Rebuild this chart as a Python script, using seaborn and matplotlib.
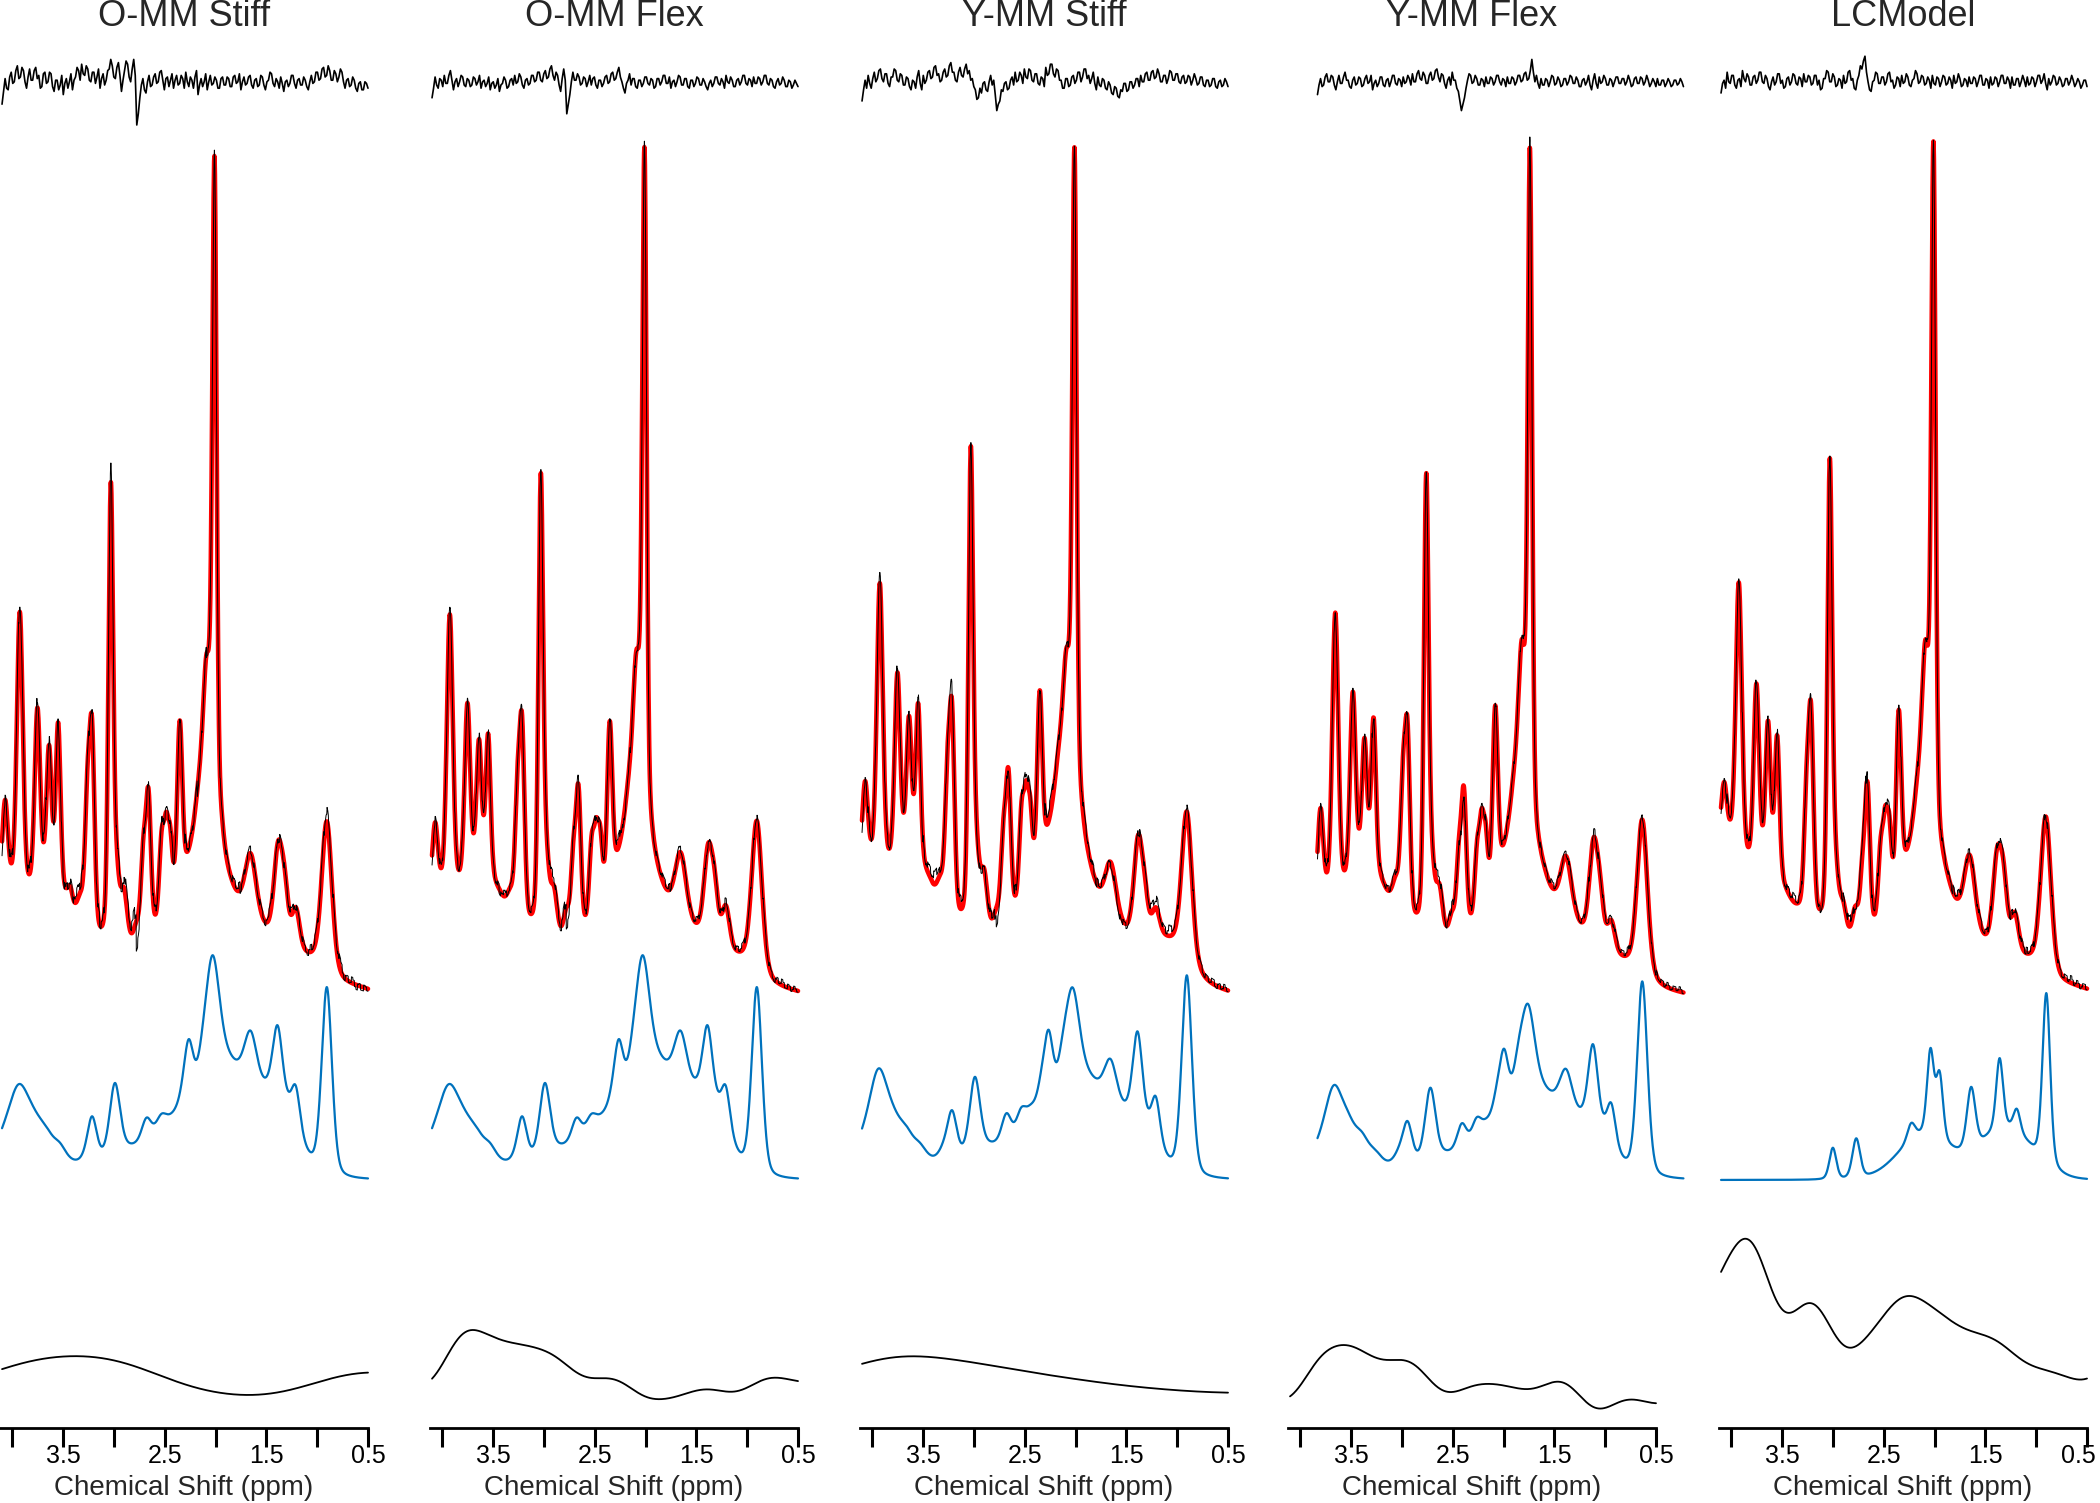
import numpy as np
import matplotlib
matplotlib.use("Agg")
import matplotlib.pyplot as plt
import matplotlib.transforms as mtransforms
import seaborn as sns

sns.set_theme(style="white")
plt.rcParams["font.family"] = ["Liberation Sans", "DejaVu Sans"]

titles = ["O-MM Stiff", "O-MM Flex", "Y-MM Stiff", "Y-MM Flex", "LCModel"]
# Y-MM Flex fit came out frequency-shifted
ppm_shift = [0.0, 0.0, 0.0, -0.27, 0.0]

# lineshape components of the fitted spectrum (ppm, fwhm in ppm)
fit_centers = [4.07, 3.925, 3.752, 3.638, 3.548, 3.43, 3.33, 3.26, 3.215, 3.03, 2.975, 2.90,
               2.78, 2.71, 2.66, 2.53, 2.485, 2.445, 2.352, 2.16, 2.09, 2.045, 2.01, 1.95,
               1.86, 1.655, 1.385, 1.32, 1.21, 0.905, 4.1, 3.6, 3.1, 2.6, 2.1, 1.6, 1.1, 0.6]
fit_fwhm = [0.065, 0.07, 0.065, 0.06, 0.055, 0.06, 0.08, 0.06, 0.06, 0.055, 0.07, 0.08,
            0.07, 0.06, 0.06, 0.06, 0.055, 0.055, 0.06, 0.10, 0.08, 0.06, 0.05, 0.07,
            0.10, 0.13, 0.10, 0.09, 0.09, 0.12, 0.5, 0.5, 0.5, 0.5, 0.5, 0.5, 0.5, 0.5]

# fit heights (ppm, height)
fit_omm_stiff = [(4.11, 115), (4.07, 207), (4.02, 153), (3.93, 383), (3.83, 148), (3.75, 292),
                 (3.70, 158), (3.64, 255), (3.58, 195), (3.55, 278), (3.50, 133), (3.48, 107),
                 (3.43, 118), (3.38, 82), (3.33, 112), (3.30, 130), (3.26, 233), (3.22, 287),
                 (3.12, 80), (3.03, 518), (2.975, 163), (2.91, 117), (2.845, 60), (2.78, 80),
                 (2.71, 163), (2.66, 212), (2.60, 87), (2.53, 170), (2.49, 187), (2.45, 177),
                 (2.41, 137), (2.35, 278), (2.29, 170), (2.23, 155), (2.16, 233), (2.11, 317),
                 (2.07, 350), (2.01, 844), (1.94, 190), (1.86, 123), (1.79, 102), (1.66, 147),
                 (1.52, 87), (1.38, 160), (1.33, 140), (1.25, 87), (1.21, 92), (1.07, 45),
                 (0.91, 178), (0.76, 37), (0.70, 13), (0.52, 10)]
fit_omm_flex = [(4.10, 98), (4.05, 197), (4.01, 134), (3.92, 380), (3.83, 161), (3.75, 295),
                (3.69, 170), (3.63, 255), (3.57, 205), (3.545, 277), (3.50, 135), (3.47, 112),
                (3.43, 115), (3.38, 85), (3.33, 115), (3.30, 140), (3.26, 230), (3.215, 286),
                (3.12, 94), (3.03, 527), (2.975, 174), (2.91, 120), (2.845, 63), (2.78, 94),
                (2.71, 160), (2.655, 210), (2.60, 85), (2.53, 165), (2.485, 183), (2.45, 175),
                (2.41, 143), (2.35, 277), (2.29, 170), (2.23, 161), (2.16, 235), (2.11, 322),
                (2.07, 352), (2.01, 853), (1.94, 183), (1.86, 120), (1.79, 103), (1.65, 147),
                (1.52, 89), (1.385, 156), (1.33, 138), (1.25, 88), (1.21, 94), (1.07, 45),
                (0.905, 179), (0.76, 35), (0.69, 13), (0.50, 5)]
fit_ymm_stiff = [(4.10, 147), (4.06, 232), (4.02, 170), (3.92, 411), (3.84, 174), (3.76, 317),
                 (3.69, 192), (3.63, 277), (3.58, 219), (3.55, 299), (3.50, 150), (3.47, 125),
                 (3.43, 128), (3.38, 103), (3.33, 128), (3.30, 150), (3.26, 250), (3.22, 304),
                 (3.12, 98), (3.03, 554), (2.975, 185), (2.91, 135), (2.83, 71), (2.78, 95),
                 (2.71, 180), (2.66, 232), (2.60, 103), (2.53, 200), (2.49, 219), (2.45, 205),
                 (2.42, 170), (2.35, 308), (2.29, 195), (2.25, 183), (2.16, 260), (2.10, 344),
                 (2.06, 370), (2.01, 853), (1.92, 183), (1.86, 125), (1.78, 107), (1.66, 138),
                 (1.53, 94), (1.39, 161), (1.33, 140), (1.27, 80), (1.20, 94), (1.07, 63),
                 (0.91, 188), (0.76, 40), (0.70, 15), (0.49, 6)]
fit_ymm_flex = [(3.84, 98), (3.80, 201), (3.75, 143), (3.66, 381), (3.57, 161), (3.49, 299),
                (3.43, 170), (3.37, 259), (3.32, 210), (3.28, 281), (3.23, 135), (3.20, 116),
                (3.16, 115), (3.12, 94), (3.06, 125), (3.03, 150), (2.99, 240), (2.95, 286),
                (2.85, 96), (2.76, 527), (2.705, 170), (2.64, 120), (2.57, 67), (2.51, 90),
                (2.44, 160), (2.39, 214), (2.33, 85), (2.26, 160), (2.21, 192), (2.18, 180),
                (2.15, 147), (2.09, 281), (2.02, 175), (1.97, 170), (1.89, 240), (1.84, 335),
                (1.80, 355), (1.74, 853), (1.68, 188), (1.59, 125), (1.53, 103), (1.40, 143),
                (1.25, 92), (1.13, 152), (1.06, 135), (0.99, 78), (0.95, 80), (0.81, 40),
                (0.65, 174), (0.49, 35), (0.43, 12), (0.25, 2)]
fit_lcmodel = [(4.09, 160), (4.06, 250), (4.01, 185), (3.92, 412), (3.82, 172), (3.75, 315),
               (3.69, 173), (3.63, 273), (3.57, 203), (3.545, 275), (3.45, 100), (3.41, 112),
               (3.36, 90), (3.30, 130), (3.26, 230), (3.21, 287), (3.11, 97), (3.03, 542),
               (2.975, 170), (2.91, 115), (2.86, 57), (2.76, 97), (2.70, 160), (2.65, 203),
               (2.58, 88), (2.52, 170), (2.48, 195), (2.44, 180), (2.40, 148), (2.35, 288),
               (2.29, 180), (2.22, 168), (2.16, 240), (2.11, 333), (2.06, 362), (2.01, 859),
               (1.91, 140), (1.84, 110), (1.78, 83), (1.64, 142), (1.50, 85), (1.37, 155),
               (1.31, 130), (1.24, 75), (1.20, 92), (1.06, 42), (0.90, 182), (0.75, 40),
               (0.67, 10), (0.50, 7)]

# macromolecule basis components (Osprey O-MM / Y-MM)
mm_centers = [3.94, 3.80, 3.66, 3.53, 3.30, 3.215, 2.99, 2.68, 2.535, 2.44, 2.34, 2.265,
              2.13, 2.03, 1.655, 1.39, 1.21, 0.905, 3.9, 3.4, 2.9, 2.4, 1.9, 1.4]
mm_fwhm = [0.18, 0.14, 0.14, 0.14, 0.12, 0.11, 0.12, 0.11, 0.11, 0.12, 0.11, 0.11,
           0.13, 0.16, 0.15, 0.11, 0.10, 0.12, 0.5, 0.5, 0.5, 0.5, 0.5, 0.45]
mm_o = [(4.11, 52), (3.93, 96), (3.79, 71), (3.66, 53), (3.53, 38), (3.41, 17), (3.29, 33),
        (3.20, 60), (3.11, 46), (2.98, 95), (2.83, 31), (2.68, 64), (2.61, 52), (2.53, 68),
        (2.47, 65), (2.42, 67), (2.34, 97), (2.30, 117), (2.25, 139), (2.19, 132), (2.12, 153),
        (2.09, 190), (2.025, 217), (1.96, 197), (1.86, 130), (1.78, 109), (1.66, 152),
        (1.51, 96), (1.39, 155), (1.27, 87), (1.22, 95), (1.07, 47), (1.01, 57), (0.98, 90),
        (0.905, 172), (0.81, 97), (0.76, 30), (0.71, 10), (0.60, 4), (0.49, 2)]
mm_y = [(4.10, 52), (3.92, 111), (3.80, 77), (3.67, 55), (3.54, 40), (3.43, 19), (3.31, 37),
        (3.22, 68), (3.11, 52), (2.99, 102), (2.83, 31), (2.68, 68), (2.61, 55), (2.54, 73),
        (2.47, 72), (2.44, 77), (2.34, 109), (2.26, 147), (2.20, 126), (2.12, 150), (2.09, 170),
        (2.05, 184), (1.96, 165), (1.86, 112), (1.77, 91), (1.66, 124), (1.53, 77), (1.39, 149),
        (1.27, 64), (1.20, 82), (1.06, 52), (1.00, 62), (0.98, 90), (0.91, 183), (0.81, 100),
        (0.76, 30), (0.71, 8), (0.60, 4), (0.49, 2)]
mm_y_flex = [(3.84, 46), (3.75, 60), (3.65, 100), (3.53, 68), (3.40, 49), (3.28, 33), (3.14, 15),
             (3.04, 32), (2.95, 58), (2.83, 43), (2.72, 91), (2.56, 24), (2.41, 58), (2.34, 46),
             (2.26, 64), (2.18, 61), (2.07, 95), (1.99, 129), (1.92, 113), (1.85, 140), (1.78, 168),
             (1.69, 150), (1.60, 100), (1.51, 79), (1.40, 113), (1.25, 70), (1.13, 135), (1.00, 58),
             (0.93, 76), (0.80, 46), (0.73, 80), (0.65, 171), (0.55, 90), (0.49, 30), (0.42, 6),
             (0.30, 3), (0.23, 2)]

# LCModel simulated macromolecules
lcm_mm_centers = [3.00, 2.77, 2.39, 2.23, 2.04, 1.95, 1.64, 1.36, 1.19, 0.90, 2.1, 1.3]
lcm_mm_fwhm = [0.08, 0.09, 0.09, 0.09, 0.08, 0.08, 0.10, 0.08, 0.08, 0.09, 0.6, 0.6]
mm_lcmodel = [(4.10, 2), (3.80, 2), (3.50, 2), (3.20, 4), (3.09, 12), (3.00, 31), (2.89, 18),
              (2.77, 40), (2.68, 18), (2.59, 11), (2.48, 13), (2.39, 15), (2.30, 30), (2.22, 59),
              (2.04, 132), (1.96, 109), (1.84, 51), (1.64, 93), (1.49, 42), (1.36, 122),
              (1.26, 58), (1.18, 70), (1.10, 31), (0.90, 182), (0.80, 90), (0.68, 12), (0.48, 4)]

# spline baselines (ppm, height)
spl_stiff_centers = [4.6, 3.8, 3.0, 2.2, 1.4, 0.6, -0.2]
spl_flex_centers = [4.4, 4.1, 3.8, 3.5, 3.2, 2.9, 2.6, 2.3, 2.0, 1.7, 1.4, 1.1, 0.8, 0.5, 0.2]
base_omm_stiff = [(4.11, 50), (3.79, 60), (3.45, 65), (3.14, 62), (2.81, 54), (2.42, 41),
                  (2.09, 30), (1.76, 23), (1.43, 27), (1.10, 36), (0.78, 43), (0.50, 48)]
base_omm_flex = [(4.10, 41), (3.90, 72), (3.69, 94), (3.48, 81), (3.19, 76), (2.93, 67),
                 (2.61, 43), (2.41, 43), (2.22, 36), (2.00, 25), (1.87, 18), (1.63, 27),
                 (1.45, 29), (1.25, 30), (1.02, 30), (0.78, 43), (0.53, 39)]
base_ymm_stiff = [(4.10, 56), (3.85, 62), (3.61, 65), (3.30, 62), (3.02, 57), (2.50, 50),
                  (2.04, 41), (1.70, 37), (1.38, 33), (1.00, 30), (0.70, 28), (0.49, 27)]
base_ymm_flex = [(4.08, 25), (3.85, 55), (3.64, 79), (3.40, 67), (3.15, 62), (2.93, 58),
                 (2.73, 42), (2.53, 27), (2.33, 31), (2.10, 41), (1.99, 35), (1.84, 24),
                 (1.63, 39), (1.32, 30), (1.02, 11), (0.76, 21), (0.51, 16)]
base_lcmodel = [(4.08, 151), (3.95, 178), (3.84, 184), (3.65, 143), (3.55, 120), (3.42, 104),
                (3.17, 119), (3.00, 88), (2.80, 70), (2.60, 93), (2.22, 125), (2.01, 113),
                (1.82, 97), (1.58, 88), (1.36, 77), (1.03, 53), (0.83, 48), (0.62, 40), (0.49, 41)]

# fit residuals (data - fit), 240 samples across each spectrum
res_omm_stiff = [-12, -4, 4, -2, -3, 5, 8, 1, 2, 9, 12, 4, 5, 11, 9, 2, -2, 5, 10, 3,
                 3, 9, 11, 4, 6, -2, -1, 7, 8, 1, 2, 8, 7, -1, -4, 3, 3, -3, 0, 6,
                 -6, 1, 4, -2, 2, 7, -3, 3, 5, 11, 9, 3, 13, 7, 6, 12, 10, 3, 2, 8,
                 8, 1, 5, 10, -2, 4, 7, 0, 3, 9, 10, 16, 12, 5, 4, 11, 14, 6, -4, 3,
                 9, 15, 13, 5, 2, 10, 16, 6, -25, -18, -8, 0, 4, -3, -5, 2, 6, -1, 0, 5,
                 7, 1, 2, 8, 9, 3, -3, 4, 5, -1, 3, 7, -2, 3, 6, 0, 1, 6, 4, -2,
                 8, 2, -1, 5, 3, -2, 5, 9, -6, 0, 4, -1, 2, 7, -3, 2, 6, 0, 1, 5,
                 3, -2, -2, 4, 5, 0, 0, 5, 4, -1, -1, 5, 6, 1, 2, 7, -3, 2, 5, 0,
                 1, 5, 6, 0, -2, 3, 4, -1, 0, 6, 5, 0, -3, 2, 3, 8, 7, 1, -1, 4,
                 2, -2, 5, 1, -4, 2, 3, -1, 1, 6, 6, 1, -2, 3, 4, 0, 0, 5, 3, -1,
                 -3, 2, 6, 1, 2, 8, 8, 3, 4, 10, 11, 5, 6, 12, 9, 3, 3, 9, 7, 2,
                 5, 10, 8, 2, -2, 3, 4, -1, 0, 5, 3, -2, -4, 1, 2, -3, -3, 2, 1, -2]
res_omm_flex = [-8, -2, 5, 0, -2, 4, 3, -1, 6, 1, 1, 6, 9, 3, -3, 2, 4, -1, 2, 6,
                5, 0, -1, 4, 3, -1, 0, 5, 4, 0, 2, 6, -2, 2, 3, -1, 1, 5, -3, 1,
                2, -2, 0, 4, -4, 0, 1, 5, 3, -2, -1, 3, 4, 0, 6, 1, 2, 7, 5, 0,
                -2, 3, 4, 0, 1, 6, 6, 2, 3, 8, 8, 3, 2, 7, 9, 4, 5, 10, 12, 6,
                3, 8, 6, 0, -4, 4, 10, 3, -18, -12, -6, 2, 8, 3, 3, 7, 5, 0, 1, 5,
                4, -1, 2, 6, 0, 4, 5, 0, -2, 3, 3, -1, 1, 5, 6, 1, 2, 7, 8, 3,
                4, 8, 11, 5, 2, -2, -5, 1, 3, 7, 0, 4, 4, -1, -2, 3, 3, -1, 1, 5,
                5, 1, 0, 4, 3, -2, -1, 4, 4, 0, 2, 6, 6, 1, 1, 5, -2, 2, 3, -1,
                2, 6, 5, 0, 0, 4, 4, -1, -2, 3, 3, -1, 1, 5, 4, 0, 0, 4, 2, -1,
                -3, 1, 3, -1, 1, 5, 5, 1, 0, 4, 2, -2, 6, 2, 1, 5, 3, -1, -1, 3,
                4, 0, 2, 6, 6, 1, 0, 4, 3, -1, 5, 1, 1, 5, 4, 0, 2, 6, 6, 1,
                0, 4, 3, -1, -2, 2, 4, 0, 1, 5, 3, -1, -1, 3, 2, -2, 0, 3, 1, -1]
res_ymm_stiff = [-10, -3, 3, -2, 6, 1, -2, 4, 8, 2, 4, 9, 10, 4, 2, 7, 7, 1, -1, 5,
                 5, 10, 9, 3, 2, 7, 6, 0, 0, 5, 4, -1, -3, 3, 2, -2, 5, 9, 1, -3,
                 6, 1, 3, 8, 9, 4, 5, 11, 12, 6, 7, 2, 3, 8, 10, 5, 6, 12, 14, 8,
                 8, 3, 2, 8, 11, 6, 5, 10, 13, 7, 9, 3, 4, -1, -3, -9, -8, -2, -5, 1,
                 2, -3, -4, 2, 6, 0, 3, -6, -16, -12, -10, -3, -4, 1, 2, -3, -2, 3, 5, 0,
                 8, 2, 3, 8, 6, 1, 10, 5, 4, 10, 9, 3, 2, 7, 7, 1, 0, 5, 4, -1,
                 11, 6, 7, 13, 13, 7, 5, 10, 9, 3, 3, -2, -2, 4, 4, -1, 0, 5, 6, 1,
                 3, 8, 8, 2, 5, 10, 10, 4, 6, 1, 4, 8, 1, -3, 5, 0, -1, 4, 3, -2,
                 -3, 2, 0, -5, -6, -1, -2, -7, -8, -3, -4, 1, 1, -4, -3, 2, 2, -2, 0, 4,
                 4, -1, 6, 2, 2, 7, 8, 3, 3, 8, 9, 4, 5, 10, 7, 2, 2, 6, 6, 1,
                 4, 9, 8, 3, 3, 7, 7, 2, 1, 5, 6, 1, 2, 6, 5, 0, 3, 7, 4, 0,
                 1, 5, 5, 0, -1, 3, 3, -1, 0, 4, 4, -1, -2, 2, 3, -1, 0, 4, 2, -1]
res_ymm_flex = [-6, 0, 4, -1, 0, 5, 7, 2, 2, 6, 5, 0, -3, 2, 6, 1, 1, 5, 8, 3,
                3, -1, -2, 3, 5, 0, 1, 5, 4, -1, 0, 4, 6, 1, 2, 6, -3, 1, 3, -1,
                1, 5, 5, 0, -1, 3, 4, -1, 2, 6, 6, 1, 0, 4, 3, -1, 5, 1, 2, 6,
                4, 0, 7, 2, 2, 7, 9, 4, 3, 8, 6, 1, 1, 6, 8, 3, 4, 9, 10, 5,
                2, 7, 6, 1, -2, 3, 5, 0, 8, 3, 3, -2, -4, -10, -16, -12, -8, -2, 3, 7,
                6, 1, 2, 6, 4, 0, 0, 4, 3, -1, 5, 1, 1, 5, 4, 0, 2, 6, 6, 2,
                0, 4, 3, -1, 5, 1, 1, 5, 4, 0, 2, 6, 6, 2, 3, 7, 8, 3, 4, 9,
                16, 8, 2, 6, 1, -2, 4, 0, 0, 4, 3, -1, 2, 6, 5, 0, 1, 5, 3, -1,
                0, 4, 4, 0, 2, 6, 5, 1, 1, 5, 3, -1, -1, 3, 4, 0, 2, 6, 0, -3,
                3, 7, 1, -2, 5, 1, 2, 6, 4, 0, 0, 4, 3, -1, 2, 5, 5, 1, 1, 4,
                4, 0, 2, 6, 3, -1, 0, 4, 5, 1, 1, 5, 4, 0, 2, 6, 3, -1, 1, 4,
                2, -1, 4, 0, 0, 3, 3, -1, 1, 4, 2, -1, 0, 3, 3, 0, 1, 4, 2, -1]
res_lcmodel = [-5, 1, 3, -2, 8, 2, 1, 6, 6, 0, -2, 3, 4, -1, 9, 4, 2, 7, 5, 0,
               0, 5, 6, 1, 3, 8, 8, 2, 1, 6, 4, -1, -3, 2, 5, 0, 2, 7, 7, 1,
               3, -2, -1, 4, 5, 0, 2, 7, 6, 1, 0, 5, 4, -1, 7, 2, 2, 6, 5, 0,
               1, 6, 6, 0, 3, -3, -2, 4, 4, 9, 8, 2, 2, 7, 5, -1, 0, 4, 3, -2,
               6, 1, 2, 8, 9, 3, 4, -2, -3, 3, 6, 12, 10, 15, 18, 8, 2, -3, -4, 2,
               3, 8, 7, 1, 1, 5, 5, 0, 2, 7, 8, 2, 3, -2, 0, 5, 4, -1, 6, 1,
               2, 7, 5, 0, -1, 3, 4, 9, 7, 1, 2, 6, 5, 0, 1, 5, 3, -2, 6, 1,
               0, 5, 4, -1, 2, 6, 5, 0, 1, 5, 3, -2, 6, 1, 2, 7, 4, -1, 0, 4,
               3, -1, 5, 1, 1, 5, 4, -1, 2, 6, 6, 0, 0, 4, 3, -2, 5, 0, 1, 5,
               4, -1, 2, 6, 6, 1, 1, 5, 3, -2, 5, 0, 0, 4, 4, -1, 2, 6, 3, -1,
               5, 0, 1, 5, 4, -1, 2, 6, 6, 1, 3, 7, 1, -3, 4, 0, 2, 6, 5, 0,
               1, 5, 3, -1, 0, 4, 4, 0, 2, 6, 3, -1, 1, 4, 2, -2, 0, 3, 3, -1]

fits = [fit_omm_stiff, fit_omm_flex, fit_ymm_stiff, fit_ymm_flex, fit_lcmodel]
mms = [mm_o, mm_o, mm_y, mm_y_flex, mm_lcmodel]
bases = [base_omm_stiff, base_omm_flex, base_ymm_stiff, base_ymm_flex, base_lcmodel]
base_centers = [spl_stiff_centers, spl_flex_centers, spl_stiff_centers, spl_flex_centers, spl_flex_centers]
residuals = [res_omm_stiff, res_omm_flex, res_ymm_stiff, res_ymm_flex, res_lcmodel]


def shape(ppm, centers, fwhm):
    # pseudo-Voigt for the narrow lines, plain Gaussian for broad humps
    ppm = np.asarray(ppm, float)[:, None]
    c = np.asarray(centers, float)[None, :]
    w = np.asarray(fwhm, float)[None, :]
    g = np.exp(-4 * np.log(2) * ((ppm - c) / w) ** 2)
    lor = 1.0 / (1.0 + (2 * (ppm - c) / w) ** 2)
    eta = np.where(w < 0.3, 0.3, 0.0)
    return (1 - eta) * g + eta * lor


def solve(pts, centers, fwhm, nonneg=True, const=False, ridge=1e-3):
    x = np.array([p[0] for p in pts])
    y = np.array([p[1] for p in pts], float)
    A = shape(x, centers, fwhm)
    if const:
        A = np.hstack([A, np.ones((len(x), 1))])
    n = A.shape[1]
    active = np.ones(n, bool)
    for _ in range(n):
        Aa = A[:, active]
        k = Aa.shape[1]
        sol = np.linalg.lstsq(np.vstack([Aa, np.sqrt(ridge) * np.eye(k)]),
                              np.concatenate([y, np.zeros(k)]), rcond=None)[0]
        if not nonneg or sol.min() >= 0:
            break
        idx = np.where(active)[0]
        active[idx[np.argmin(sol)]] = False
    amps = np.zeros(n)
    amps[active] = sol
    return amps


def curve(ppm, amps, centers, fwhm, const=False):
    G = shape(ppm, centers, fwhm)
    if const:
        return G @ amps[:-1] + amps[-1]
    return G @ amps


# vertical placement of the stacked traces (pixels above the axis line)
off_res, off_fit, off_mm, off_base = 1343, 428, 248, 8
res_gain = 1.6   # residual panel is drawn magnified
fig = plt.figure(figsize=(21, 15.03), dpi=100)
lefts = [0, 430, 860, 1288, 1719]

for i, title in enumerate(titles):
    ax = fig.add_axes([lefts[i] / 2100, 75 / 1503, 368 / 2100, 1383 / 1503])
    sh = ppm_shift[i]
    ppm = np.linspace(4.1, 0.5, 1440) + sh
    ppm_res = np.linspace(4.1, 0.5, 240) + sh
    ppm_base = np.linspace(4.1, 0.5, 600)

    fc = np.array(fit_centers) + sh
    fit = curve(ppm, solve(fits[i], fc, fit_fwhm), fc, fit_fwhm)
    res = np.array(residuals[i], float)
    data = fit + np.repeat(res, 6) * 1.2

    if i == 4:
        mm = curve(ppm, solve(mms[i], lcm_mm_centers, lcm_mm_fwhm), lcm_mm_centers, lcm_mm_fwhm)
    else:
        mc = np.array(mm_centers) + sh
        mm = curve(ppm, solve(mms[i], mc, mm_fwhm), mc, mm_fwhm)

    bc = base_centers[i]
    bw = [1.2] * len(bc) if len(bc) < 10 else [0.45] * len(bc)
    base = curve(ppm_base, solve(bases[i], bc, bw, nonneg=False, const=True, ridge=0.05),
                 bc, bw, const=True)

    kw = dict(ax=ax, sort=False, estimator=None, clip_on=False, legend=False)
    sns.lineplot(x=ppm_res, y=res * res_gain + off_res, color="black", lw=1.2, **kw)
    sns.lineplot(x=ppm, y=fit + off_fit, color="#ff0000", lw=3.3, zorder=2, **kw)
    sns.lineplot(x=ppm, y=data + off_fit, color="black", lw=0.7, zorder=3, **kw)
    sns.lineplot(x=ppm, y=mm + off_mm, color="#0072BD", lw=1.6, **kw)
    sns.lineplot(x=ppm_base, y=base + off_base, color="black", lw=1.3, **kw)

    ax.set_xlim(4.12, 0.5)
    ax.set_ylim(0, 1383)
    ax.set_yticks([])
    ax.set_ylabel("")
    ax.set_xticks([4.0, 3.5, 3.0, 2.5, 2.0, 1.5, 1.0, 0.5])
    ax.set_xticklabels(["", "3.5", "", "2.5", "", "1.5", "", "0.5"])
    ax.tick_params(axis="x", direction="out", length=13.5, width=2.2, pad=-2,
                   labelsize=18, colors="black", bottom=True)
    if i == len(titles) - 1:
        # keep the last label inside the canvas
        lab = ax.get_xticklabels()[-1]
        lab.set_transform(lab.get_transform() +
                          mtransforms.ScaledTranslation(-6 / 72, 0, fig.dpi_scale_trans))
    for side in ["top", "left", "right"]:
        ax.spines[side].set_visible(False)
    ax.spines["bottom"].set_linewidth(2.0)
    ax.spines["bottom"].set_color("black")
    ax.set_xlabel("")
    ax.patch.set_alpha(0)
    cx = (lefts[i] + 184) / 2100
    fig.text(cx, 1 - 16 / 1503, title, ha="center", va="center", fontsize=26)
    fig.text(cx, 1 - 1495 / 1503, "Chemical Shift (ppm)", ha="center", va="baseline", fontsize=20)

fig.savefig("out.png", dpi=100, facecolor="white")
